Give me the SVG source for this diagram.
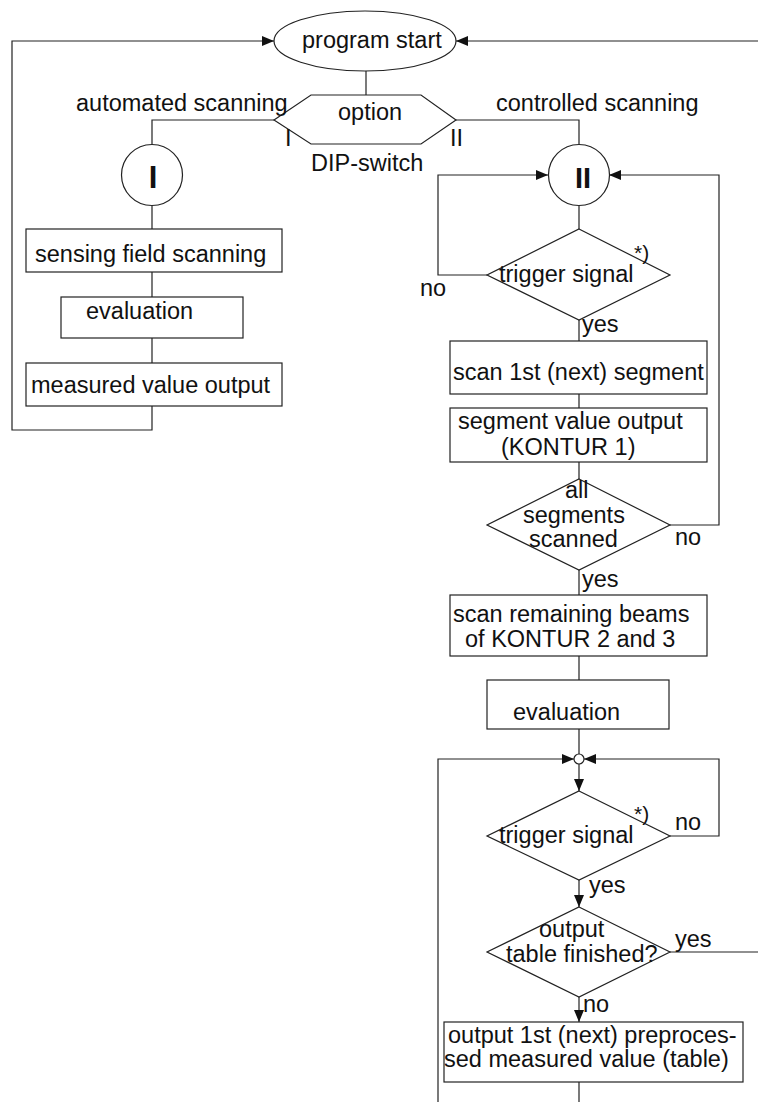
<svg xmlns="http://www.w3.org/2000/svg" width="758" height="1102" viewBox="0 0 758 1102">
<style>
.s{fill:#fff;stroke:#222;stroke-width:1.2}
.c{fill:none;stroke:#222;stroke-width:1.2}
text{font-family:"Liberation Sans",Arial,sans-serif;font-size:23.5px;fill:#111}
.b{font-weight:bold;text-anchor:middle}
.fn{font-size:21px}
</style>
<defs>
<marker id="ah" markerUnits="userSpaceOnUse" markerWidth="13" markerHeight="11" refX="12" refY="5" orient="auto"><path d="M0,0 L12,5 L0,10 z" fill="#111"/></marker>
</defs>
<rect width="758" height="1102" fill="#fff"/>
<g id="connectors">
<path class="c" d="M152,406 V430 H12 V41 H274" marker-end="url(#ah)"/>
<path class="c" d="M758,41 H456" marker-end="url(#ah)"/>
<path class="c" d="M366,71 V95"/>
<path class="c" d="M274,120 H152 V144"/>
<path class="c" d="M456,120 H579 V144"/>
<path class="c" d="M152,206 V229 M152,272 V297 M152,338 V363"/>
<path class="c" d="M579,206 V229 M579,320 V341 M579,394 V408 M579,462 V479 M579,570 V595 M579,656 V680 M579,729 V754 M579,1082 V1102"/>
<path class="c" d="M487,275 H438 V175 H548" marker-end="url(#ah)"/>
<path class="c" d="M670,525 H719 V175 H609" marker-end="url(#ah)"/>
<path class="c" d="M438,1102 V759 H574" marker-end="url(#ah)"/>
<path class="c" d="M670,836 H719 V759 H584" marker-end="url(#ah)"/>
<path class="c" d="M579,764 V791" marker-end="url(#ah)"/>
<path class="c" d="M579,880 V907" marker-end="url(#ah)"/>
<path class="c" d="M579,997 V1022" marker-end="url(#ah)"/>
<path class="c" d="M670,952 H758"/>
</g>
<g id="start"><ellipse class="s" cx="365" cy="41" rx="91" ry="30"/><text x="302" y="48">program start</text></g>
<g id="option"><path class="s" d="M274,120 L311,95 H421 L456,120 L421,144 H311 z"/><text x="338" y="120">option</text>
<text x="76" y="111">automated scanning</text><text x="496" y="111">controlled scanning</text>
<text x="285" y="146">I</text><text x="450" y="146">II</text><text x="311" y="171">DIP-switch</text></g>
<g id="conn1"><circle class="s" cx="152" cy="175" r="30.5"/><text class="b" x="153" y="188" style="font-size:31px">I</text></g>
<g id="sensing"><rect class="s" x="26" y="229" width="256" height="43"/><text x="35" y="262">sensing field scanning</text></g>
<g id="eval1"><rect class="s" x="61" y="297" width="182" height="41"/><text x="86" y="319">evaluation</text></g>
<g id="measured"><rect class="s" x="26" y="363" width="256" height="43"/><text x="31" y="393">measured value output</text></g>
<g id="conn2"><circle class="s" cx="579" cy="175" r="30.5"/><text class="b" x="583" y="188" style="font-size:29px">II</text></g>
<g id="trigger1"><path class="s" d="M579,229 L670,275 L579,320 L487,275 z"/><text x="499" y="282">trigger signal</text><text class="fn" x="634" y="260">*)</text>
<text x="420" y="296">no</text><text x="582" y="332">yes</text></g>
<g id="scanseg"><rect class="s" x="450" y="341" width="257" height="53"/><text x="453" y="380">scan 1st (next) segment</text></g>
<g id="segout"><rect class="s" x="450" y="408" width="257" height="54"/><text x="458" y="429">segment value output</text><text x="501" y="455">(KONTUR 1)</text></g>
<g id="allseg"><path class="s" d="M579,479 L670,525 L579,570 L487,525 z"/><text x="565" y="498">all</text><text x="523" y="523">segments</text><text x="529" y="547">scanned</text>
<text x="675" y="545">no</text><text x="582" y="587">yes</text></g>
<g id="remaining"><rect class="s" x="450" y="595" width="257" height="61"/><text x="453" y="622">scan remaining beams</text><text x="465" y="647">of KONTUR 2 and 3</text></g>
<g id="eval2"><rect class="s" x="487" y="680" width="182" height="49"/><text x="513" y="720">evaluation</text></g>
<g id="junction"><circle class="s" cx="579" cy="759" r="5"/></g>
<g id="trigger2"><path class="s" d="M579,791 L670,836 L579,880 L487,836 z"/><text x="499" y="843">trigger signal</text><text class="fn" x="634" y="821">*)</text>
<text x="675" y="830">no</text><text x="589" y="893">yes</text></g>
<g id="tablefin"><path class="s" d="M579,907 L670,952 L579,997 L487,952 z"/><text x="539" y="937">output</text><text x="506" y="962">table finished?</text>
<text x="675" y="947">yes</text><text x="583" y="1012">no</text></g>
<g id="outnext"><rect class="s" x="444" y="1022" width="299" height="60"/><text x="448" y="1043">output 1st (next) preproces-</text><text x="444" y="1067">sed measured value (table)</text></g>
</svg>
